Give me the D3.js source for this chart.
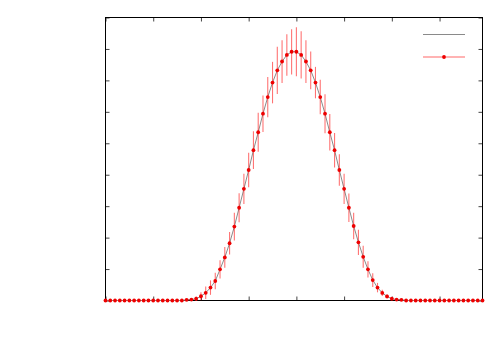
<!DOCTYPE html>
<html>
<head>
<meta charset="utf-8">
<script src="https://cdn.jsdelivr.net/npm/d3@7"></script>
<style>
  body { margin: 0; background: #fff; }
  svg { display: block; }
</style>
</head>
<body>
<script>
// data: bin index, measured values (red points), their errors, model line (gray)
var bins = d3.range(80);

var counts = [
  0, 0, 0, 0, 0, 0, 0, 0, 0, 0,
  0, 0, 0, 0, 0, 0, 0, 0.02, 0.03, 0.055,
  0.135, 0.245, 0.41, 0.62, 0.99, 1.37, 1.82, 2.35, 2.95, 3.55,
  4.15, 4.78, 5.35, 5.94, 6.47, 6.93, 7.32, 7.60, 7.81, 7.91,
  7.91, 7.81, 7.60, 7.32, 6.93, 6.47, 5.94, 5.35, 4.78, 4.15,
  3.55, 2.95, 2.37, 1.85, 1.39, 0.99, 0.65, 0.41, 0.24, 0.13,
  0.055, 0.03, 0.02, 0, 0, 0, 0, 0, 0, 0,
  0, 0, 0, 0, 0, 0, 0, 0, 0, 0
];

var errors = [
  0, 0, 0, 0, 0, 0, 0, 0, 0, 0,
  0, 0, 0, 0, 0, 0, 0, 0.02, 0.04, 0.07,
  0.13, 0.2, 0.23, 0.26, 0.29, 0.33, 0.36, 0.44, 0.46, 0.48,
  0.55, 0.6, 0.62, 0.58, 0.64, 0.66, 0.75, 0.68, 0.66, 0.72,
  0.78, 0.75, 0.68, 0.6, 0.5, 0.55, 0.62, 0.58, 0.55, 0.5,
  0.48, 0.45, 0.42, 0.4, 0.35, 0.26, 0.22, 0.15, 0.1, 0.07,
  0.04, 0.02, 0, 0, 0, 0, 0, 0, 0, 0,
  0, 0, 0, 0, 0, 0, 0, 0, 0, 0
];

var model = counts.slice();

var xTicks = [0, 10, 20, 30, 40, 50, 60, 70];
var yTicks = [0, 1, 2, 3, 4, 5, 6, 7, 8, 9];

var width = 500,
  height = 350;

var plot = {
  left: 105.5,
  right: 482.5,
  top: 17.5,
  bottom: 300.5
};

var svg = d3.select("body")
  .append("svg")
  .attr("width", width)
  .attr("height", height);

var x = d3.scaleLinear()
  .domain([0, 79])
  .range([plot.left, plot.right]);

var y = d3.scaleLinear()
  .domain([0, 9])
  .range([plot.bottom, plot.top]);

// ticks pointing inward on all four sides, no labels
var tickLen = 4;
svg.append("g")
  .attr("transform", "translate(0," + plot.bottom + ")")
  .call(d3.axisBottom(x).tickValues(xTicks).tickSizeInner(-tickLen).tickSizeOuter(0).tickFormat(""));
svg.append("g")
  .attr("transform", "translate(0," + plot.top + ")")
  .call(d3.axisTop(x).tickValues(xTicks).tickSizeInner(-tickLen).tickSizeOuter(0).tickFormat(""));
svg.append("g")
  .attr("transform", "translate(" + plot.left + ",0)")
  .call(d3.axisLeft(y).tickValues(yTicks).tickSizeInner(-tickLen).tickSizeOuter(0).tickFormat(""));
svg.append("g")
  .attr("transform", "translate(" + plot.right + ",0)")
  .call(d3.axisRight(y).tickValues(yTicks).tickSizeInner(-tickLen).tickSizeOuter(0).tickFormat(""));

svg.selectAll(".domain").remove();
svg.selectAll(".tick line").attr("stroke", "#444");

// border
svg.append("rect")
  .attr("x", plot.left)
  .attr("y", plot.top)
  .attr("width", plot.right - plot.left)
  .attr("height", plot.bottom - plot.top)
  .attr("fill", "none")
  .attr("stroke", "#000")
  .attr("stroke-width", 1);

// gray model line
var line = d3.line()
  .x(function(d, i) { return x(bins[i]); })
  .y(function(d) { return y(d); });

svg.append("path")
  .datum(model)
  .attr("d", line)
  .attr("fill", "none")
  .attr("stroke", "#8a8a8a")
  .attr("stroke-width", 1);

// error bars
svg.selectAll(".err")
  .data(counts)
  .enter().append("line")
  .attr("class", "err")
  .attr("x1", function(d, i) { return x(bins[i]); })
  .attr("x2", function(d, i) { return x(bins[i]); })
  .attr("y1", function(d, i) { return y(d - errors[i]); })
  .attr("y2", function(d, i) { return y(d + errors[i]); })
  .attr("stroke", "#f00")
  .attr("stroke-opacity", 0.55)
  .attr("stroke-width", 1.1);

// points
svg.selectAll(".pt")
  .data(counts)
  .enter().append("circle")
  .attr("class", "pt")
  .attr("cx", function(d, i) { return x(bins[i]); })
  .attr("cy", function(d) { return y(d); })
  .attr("r", 1.9)
  .attr("fill", "#e00");

// legend (no labels)
var legend = svg.append("g");
legend.append("line")
  .attr("x1", 423).attr("x2", 465)
  .attr("y1", 34.5).attr("y2", 34.5)
  .attr("stroke", "#8a8a8a");
legend.append("line")
  .attr("x1", 423).attr("x2", 465)
  .attr("y1", 57).attr("y2", 57)
  .attr("stroke", "#f00")
  .attr("stroke-opacity", 0.4)
  .attr("stroke-width", 1.5);
legend.append("circle")
  .attr("cx", 444).attr("cy", 57)
  .attr("r", 1.9)
  .attr("fill", "#e00");
</script>
</body>
</html>
